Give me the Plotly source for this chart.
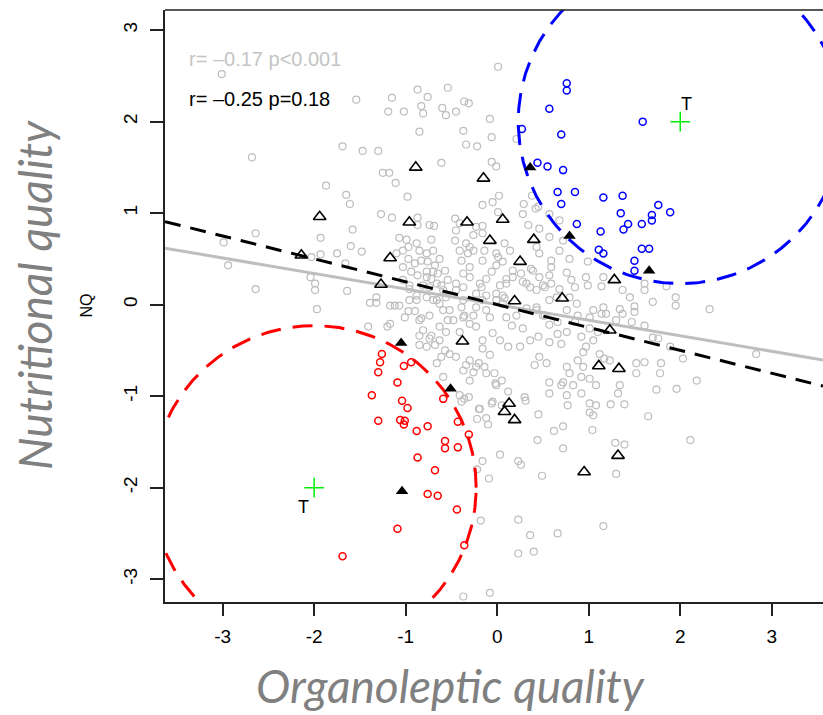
import numpy as np
import plotly.graph_objects as go

# ---------------- data ----------------
gray_x = [-3.01,-1.54,-1.15,-0.87,-0.76,-0.54,-1.19,-1.02,-0.83,-0.81,-0.60,-0.56,-0.85,-1.69,-1.47,-1.30,-2.68,-0.61,-1.25,-1.18,-1.11,-1.87,-1.65,-0.98,
 0.01,-0.45,-0.36,-0.31,-0.08,-0.37,-0.06,0.21,-0.34,-0.22,-0.06,-0.01,0.02,0.38,
 -1.61,-1.27,-1.15,-0.87,-2.64,-1.93,-1.58,-2.99,-1.07,-0.99,-0.87,-0.74,-0.69,-0.72,-1.60,-1.48,-1.93,-2.03,-1.75,-2.94,-1.66,-2.04,-1.99,-1.99,-2.64,-1.64,-1.97,-1.41,-1.39,-1.32,-1.32,-1.17,-1.12,-1.07,-1.20,-1.17,-0.97,-0.90,-0.96,-0.88,-0.83,-0.81,-0.72,-0.85,-0.77,-0.68,-0.66,-0.61,-0.57,-0.59,
 -1.10,-1.03,-0.97,-0.88,-0.85,-0.77,-0.70,-0.97,-0.90,-0.83,-0.76,-0.68,-0.63,-1.03,-0.94,-0.87,-0.77,-0.72,-0.65,-0.57,-1.03,-0.96,-0.81,-0.74,-0.66,-0.59,-0.54,-0.77,-0.70,-0.63,-0.56,-0.59,-0.54,-0.63,-0.56,
 -0.16,-0.05,0.29,0.42,0.01,0.34,-0.16,-0.46,-0.41,-0.45,-0.26,-0.34,-0.26,-0.32,-0.41,-0.39,-0.14,-0.16,0.01,-0.01,0.08,0.14,0.46,0.59,0.57,0.39,0.46,0.26,0.28,0.36,0.17,0.10,0.03,-0.06,-0.12,-0.17,-0.23,-0.30,-0.37,-0.45,-0.37,0.50,0.59,0.68,0.06,-0.01,0.06,-0.16,-0.23,-0.12,-0.08,-0.39,-0.36,-0.30,-0.52,-0.48,0.10,0.16,0.43,0.50,
 -0.96,-0.88,-0.66,-1.01,-0.85,-0.74,-0.70,-0.61,-0.77,
 0.99,0.79,0.76,0.81,0.85,0.97,0.99,1.16,1.14,1.37,1.45,1.61,1.61,1.85,1.95,1.95,2.32,1.70,1.50,1.34,1.16,1.14,1.19,1.05,1.01,0.87,0.88,0.85,0.79,1.30,1.37,1.50,1.47,1.61,1.70,1.76,1.89,2.03,2.18,2.83,1.79,1.78,1.52,1.52,1.61,1.12,1.17,1.23,1.05,0.97,0.94,0.88,0.94,1.34,1.32,1.74,1.96,1.01,1.08,0.92,0.76,0.79,0.72,0.57,0.70,0.83,0.57,0.76,0.92,0.46,0.54,0.41,0.25,0.12,-0.01,0.05,0.30,-0.16,-0.16,-0.08,-0.23,-0.12,-0.30,-0.37,-0.30,-0.45,-0.05,0.03,0.12,0.36,0.45,0.57,0.66,0.76,0.70,0.92,1.01,1.10,0.57,0.66,0.52,0.43,0.32,0.21,0.28,-0.26,-0.23,-0.41,-0.37,-0.45,-0.37,-0.30,-0.19,-0.12,-0.01,0.08,0.32,0.43,0.52,0.57,0.65,0.76,0.59,0.68,0.37,0.43,0.57,0.72,0.46,0.57,0.68,0.28,0.45,-0.23,-0.16,-0.46,-0.30,-0.01,0.06,0.17,0.10,
 -0.39,-0.06,-0.20,0.05,0.31,0.45,0.77,1.01,1.08,1.05,1.01,1.24,1.39,1.65,2.11,-0.22,-0.10,0.72,0.62,1.04,0.44,0.72,1.29,1.39,0.03,-0.16,-0.22,-0.09,0.23,0.26,0.49,1.30,-0.18,0.23,0.36,0.66,1.16,0.23,0.40,-0.37,-0.08,
 -0.85,-0.74,-0.63,-0.52,-0.41,-0.36,-0.31,-0.34,-0.26,-0.20,-0.14,-0.03,-0.02,-0.19,-0.12,-0.05]
gray_y = [2.52,2.24,2.26,2.35,2.27,2.37,2.11,2.11,2.17,2.09,2.15,2.07,1.89,1.73,1.68,1.68,1.61,1.55,1.44,1.44,1.33,1.30,1.20,1.18,
 2.60,2.11,2.22,2.20,2.03,1.90,1.83,1.81,1.75,1.73,1.56,1.51,1.19,1.19,
 1.10,0.99,0.95,0.95,0.78,0.73,0.82,0.68,0.73,0.71,0.87,0.87,0.86,0.71,0.64,0.58,0.55,0.52,0.56,0.43,0.45,0.30,0.23,0.16,0.17,0.15,-0.05,-0.24,0.02,0.02,0.08,-0.01,-0.01,-0.01,-0.24,-0.21,-0.07,-0.07,0.05,0.05,-0.15,-0.28,-0.34,-0.44,-0.46,-0.44,-0.64,-0.57,-0.50,-0.79,
 0.56,0.59,0.63,0.67,0.59,0.56,0.59,0.50,0.45,0.48,0.47,0.43,0.50,0.41,0.36,0.32,0.36,0.28,0.34,0.37,0.27,0.21,0.21,0.19,0.23,0.16,0.27,0.08,0.05,0.01,0.08,-0.06,-0.17,-0.24,-0.30,
 1.09,1.12,1.10,1.05,1.01,0.87,0.86,0.94,0.89,0.81,0.76,0.67,0.59,0.56,0.59,0.48,0.59,0.48,0.52,0.43,0.67,0.59,0.56,0.41,0.32,0.37,0.30,0.34,0.25,0.19,0.37,0.28,0.21,0.36,0.28,0.19,0.12,0.41,0.34,0.23,0.19,0.21,0.23,0.17,0.10,0.05,0.01,0.05,-0.03,-0.06,-0.14,-0.03,-0.12,-0.21,-0.06,-0.17,-0.14,-0.23,-0.06,-0.12,
 0.17,0.10,0.05,-0.14,-0.17,-0.12,0.36,0.21,0.30,
 0.47,0.50,0.35,0.27,0.19,0.30,0.21,0.30,0.20,0.16,0.08,0.23,0.16,0.20,0.08,-0.01,-0.05,0.03,-0.02,-0.05,-0.03,-0.10,-0.10,-0.06,-0.14,0.01,-0.12,-0.19,0.08,-0.17,-0.10,-0.08,-0.19,-0.23,-0.36,-0.37,-0.46,-0.59,-0.83,-0.54,-0.64,-0.75,-0.64,-0.75,-0.63,-0.54,-0.59,-0.61,-0.39,-0.46,-0.52,-0.61,-0.68,-0.88,-0.97,-0.93,-0.92,-0.81,-0.88,-0.79,-0.68,-0.75,-0.85,-0.85,-0.88,-0.88,-0.97,-0.99,-0.97,-0.57,-0.64,-0.66,-0.46,-0.95,-0.88,-0.83,-1.01,-0.39,-0.48,-0.55,-0.68,-0.75,-0.61,-0.72,-0.83,-0.57,-0.31,-0.39,-0.46,-0.39,-0.35,-0.41,-0.32,-0.30,-0.43,-0.35,-0.26,-0.30,-0.22,-0.19,-0.12,-0.03,-0.04,-0.12,-0.26,-0.12,-0.24,-0.30,-0.14,0.16,0.05,0.30,0.23,0.10,0.12,0.07,0.23,0.16,0.19,0.05,0.08,-0.06,0.48,0.59,0.39,0.63,0.74,0.70,0.83,0.99,0.92,0.99,1.07,0.85,0.78,0.70,0.63,0.56,0.47,0.30,0.23,
 -1.06,-1.08,-1.14,-1.10,-1.05,-1.20,-1.10,-1.08,-1.10,-1.21,-1.18,-1.09,-1.09,-1.22,-1.48,-1.25,-1.31,-1.33,-1.38,-1.37,-1.48,-1.57,-1.51,-1.53,-1.64,-1.71,-1.80,-1.90,-1.71,-1.75,-1.87,-1.85,-2.36,-2.35,-2.52,-2.50,-2.42,-2.72,-2.70,-3.19,-3.15,
 -0.34,-0.37,-0.39,-0.54,-0.99,-1.03,-1.01,-0.66,-0.74,-0.64,-0.68,-0.75,-0.86,-1.14,-1.24,-1.06]

blue_x = [0.76,0.76,0.57,1.59,0.27,0.70,0.44,0.55,0.72,0.66,0.85,1.16,1.37,0.70,1.35,1.76,1.89,1.69,1.69,0.87,1.43,1.38,1.58,1.13,1.58,1.66,1.11,1.16,1.50,1.50]
blue_y = [2.42,2.34,2.14,2.00,1.92,1.86,1.55,1.51,1.47,1.23,1.23,1.17,1.19,1.10,1.00,1.09,1.01,0.98,0.92,0.88,0.88,0.82,0.88,0.80,0.61,0.61,0.60,0.56,0.48,0.37]

red_x = [-1.26,-1.28,-1.30,-0.94,-1.02,-1.09,-1.37,-1.04,-0.98,-0.59,-1.30,-1.06,-1.01,-1.02,-0.88,-0.76,-0.43,-0.31,-0.57,-0.57,-0.43,-0.87,-0.68,-0.76,-0.65,-0.44,-1.09,-1.69,-0.36]
red_y = [-0.54,-0.63,-0.74,-0.63,-0.67,-0.85,-0.99,-1.05,-1.13,-1.03,-1.27,-1.26,-1.27,-1.31,-1.38,-1.33,-1.28,-1.42,-1.49,-1.57,-1.56,-1.67,-1.81,-2.07,-2.09,-2.24,-2.45,-2.75,-2.63]

tri_open_x = [-2.14,-1.94,-0.89,-0.15,-0.96,-1.17,-1.27,-0.33,0.06,-0.08,0.40,0.25,1.28,0.71,0.19,1.23,-0.38,1.11,1.33,0.13,0.08,0.19,1.32,0.95]
tri_open_y = [0.54,0.96,1.50,1.38,0.90,0.51,0.22,0.90,0.93,0.70,0.71,0.47,0.27,0.07,0.04,-0.28,-0.40,-0.67,-0.70,-1.08,-1.17,-1.26,-1.65,-1.83]

tri_fill_x = [0.36,0.79,1.66,-1.05,-0.51,-1.04]
tri_fill_y = [1.50,0.75,0.37,-0.42,-0.92,-2.04]

target_x = [2.0, -2.0]
target_y = [2.0, -2.0]
target_labels = ["T", "T"]
circle_radius = 1.77

slope_all = -0.17   # r for all products
slope_sub = -0.25   # r for subset
stat_texts = ["r= \u20130.17 p<0.001", "r= \u20130.25 p=0.18"]

x_ticks = [-3, -2, -1, 0, 1, 2, 3]
y_ticks = [-3, -2, -1, 0, 1, 2, 3]
x_range = [-3.63, 3.56]
y_range = [-3.25, 3.22]

FONT = "Liberation Sans, Arial"

# ---------------- figure ----------------
fig = go.Figure()

fig.add_trace(go.Scatter(x=gray_x, y=gray_y, mode="markers",
    marker=dict(symbol="circle-open", size=7, color="#bdbdbd", line=dict(width=1.2, color="#bdbdbd")),
    hoverinfo="skip"))

xs = np.array(x_range)
fig.add_trace(go.Scatter(x=xs, y=slope_all * xs, mode="lines",
    line=dict(color="#bebebe", width=3)))
fig.add_trace(go.Scatter(x=xs, y=slope_sub * xs, mode="lines",
    line=dict(color="black", width=3, dash="16px,10px")))

fig.add_trace(go.Scatter(x=blue_x, y=blue_y, mode="markers",
    marker=dict(symbol="circle-open", size=7, color="#0000ff", line=dict(width=1.5, color="#0000ff"))))
fig.add_trace(go.Scatter(x=red_x, y=red_y, mode="markers",
    marker=dict(symbol="circle-open", size=7, color="#ff0000", line=dict(width=1.5, color="#ff0000"))))

theta = np.linspace(0, 2 * np.pi, 400)
for cx, cy, col in [(target_x[0], target_y[0], "#0000ff"), (target_x[1], target_y[1], "#ff0000")]:
    fig.add_trace(go.Scatter(x=cx + circle_radius * np.cos(theta), y=cy + circle_radius * np.sin(theta),
        mode="lines", line=dict(color=col, width=3, dash="20px,12px")))

fig.add_trace(go.Scatter(x=tri_open_x, y=tri_open_y, mode="markers",
    marker=dict(symbol="triangle-up-open", size=11, color="black", line=dict(width=1.6, color="black"))))
fig.add_trace(go.Scatter(x=tri_fill_x, y=tri_fill_y, mode="markers",
    marker=dict(symbol="triangle-up", size=11, color="black", line=dict(width=0))))

fig.add_trace(go.Scatter(x=target_x, y=target_y, mode="markers",
    marker=dict(symbol="cross-thin-open", size=14, color="#00ee00", line=dict(width=1.5, color="#00ee00"))))

# T labels
fig.add_annotation(x=target_x[0] + 0.07, y=target_y[0] + 0.19, text=target_labels[0], showarrow=False,
    font=dict(family=FONT, size=18, color="black"))
fig.add_annotation(x=target_x[1] - 0.12, y=target_y[1] - 0.21, text=target_labels[1], showarrow=False,
    font=dict(family=FONT, size=18, color="black"))

# stat texts
fig.add_annotation(xref="paper", yref="paper", x=0.034, y=0.918, xanchor="left", yanchor="middle",
    text=stat_texts[0], showarrow=False, font=dict(family=FONT, size=20, color="#c4c4c4"))
fig.add_annotation(xref="paper", yref="paper", x=0.034, y=0.85, xanchor="left", yanchor="middle",
    text=stat_texts[1], showarrow=False, font=dict(family=FONT, size=20, color="black"))

# axis titles
fig.add_annotation(xref="paper", yref="paper", x=-0.12, y=0.501, xanchor="center", yanchor="middle",
    text="NQ", textangle=-90, showarrow=False, font=dict(family=FONT, size=16, color="black"))
fig.add_annotation(xref="paper", yref="paper", x=-0.198, y=0.518, xanchor="center", yanchor="middle",
    text="<i>Nutritional quality</i>", textangle=-90,
    showarrow=False, font=dict(family="Lato", size=46, color="#808080"))
fig.add_annotation(xref="paper", yref="paper", x=0.434, y=-0.1905, xanchor="center", yanchor="bottom",
    text="<i>Organoleptic quality</i>",
    showarrow=False, font=dict(family="Lato", size=46, color="#808080"))

# top border
fig.add_shape(type="line", xref="paper", yref="paper", x0=0, x1=1, y0=1, y1=1, line=dict(color="#222", width=1.5))

fig.update_layout(
    width=823, height=715, showlegend=False,
    margin=dict(l=165, r=0, t=10, b=113),
    paper_bgcolor="white", plot_bgcolor="white",
    xaxis=dict(range=x_range, tickvals=x_ticks, ticktext=[str(v) for v in x_ticks], showgrid=False, zeroline=False,
               showline=True, linecolor="#222", linewidth=1.5, ticks="outside", ticklen=12, tickwidth=1.5,
               ticklabelstandoff=4,
               tickcolor="#222", tickfont=dict(family=FONT, size=19, color="black")),
    yaxis=dict(range=y_range, tickvals=y_ticks, ticktext=[str(v) for v in y_ticks], showgrid=False, zeroline=False,
               showline=True, linecolor="#222", linewidth=1.5, ticks="outside", ticklen=13, tickwidth=1.5,
               ticklabelstandoff=6,
               tickcolor="#222", tickangle=-90, tickfont=dict(family=FONT, size=19, color="black")),
)

fig.write_html("out.html")
